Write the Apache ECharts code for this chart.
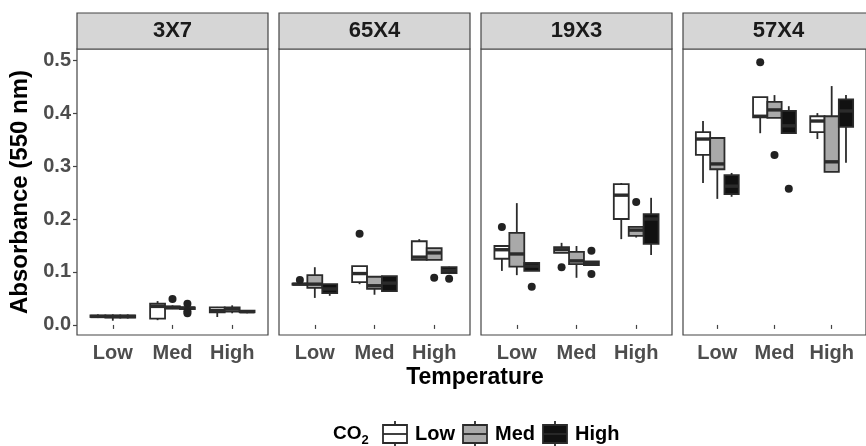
<!DOCTYPE html>
<html lang="en">
<head>
<meta charset="UTF-8">
<title>Absorbance by temperature and CO2</title>
<script src="https://cdn.jsdelivr.net/npm/echarts@6/dist/echarts.min.js"></script>
<style>
    body { margin: 0; background: #fff; }
    #chart { width: 866px; height: 446px; }
</style>
</head>
<body>
<div id="chart"></div>
<script>
// facets, x categories (temperature) and fill groups (CO2)
var panels = ['3X7', '65X4', '19X3', '57X4'];
var temps = ['Low', 'Med', 'High'];
var co2Levels = ['Low', 'Med', 'High'];
var yTicks = [0, 0.1, 0.2, 0.3, 0.4, 0.5];

// box stats per panel: [temp, co2, min, q1, median, q3, max]
var box3X7 = [
    [0, 0, 0.013, 0.015, 0.016, 0.018, 0.020],
    [0, 1, 0.008, 0.014, 0.016, 0.018, 0.020],
    [0, 2, 0.012, 0.014, 0.016, 0.018, 0.020],
    [1, 0, 0.009, 0.012, 0.035, 0.040, 0.045],
    [1, 1, 0.030, 0.031, 0.033, 0.035, 0.037],
    [1, 2, 0.028, 0.030, 0.032, 0.033, 0.035],
    [2, 0, 0.015, 0.024, 0.027, 0.033, 0.034],
    [2, 1, 0.022, 0.025, 0.030, 0.033, 0.037],
    [2, 2, 0.022, 0.024, 0.025, 0.027, 0.028]
];
var box65X4 = [
    [0, 0, 0.075, 0.076, 0.077, 0.078, 0.079],
    [0, 1, 0.051, 0.070, 0.077, 0.094, 0.109],
    [0, 2, 0.055, 0.060, 0.068, 0.077, 0.077],
    [1, 0, 0.077, 0.081, 0.097, 0.111, 0.111],
    [1, 1, 0.057, 0.068, 0.074, 0.091, 0.091],
    [1, 2, 0.064, 0.064, 0.079, 0.092, 0.092],
    [2, 0, 0.123, 0.123, 0.128, 0.158, 0.162],
    [2, 1, 0.123, 0.123, 0.136, 0.145, 0.145],
    [2, 2, 0.098, 0.098, 0.103, 0.109, 0.110]
];
var box19X3 = [
    [0, 0, 0.102, 0.125, 0.142, 0.149, 0.149],
    [0, 1, 0.094, 0.110, 0.134, 0.174, 0.230],
    [0, 2, 0.102, 0.102, 0.111, 0.117, 0.117],
    [1, 0, 0.136, 0.136, 0.142, 0.147, 0.155],
    [1, 1, 0.089, 0.115, 0.121, 0.138, 0.149],
    [1, 2, 0.113, 0.113, 0.116, 0.120, 0.120],
    [2, 0, 0.162, 0.200, 0.245, 0.266, 0.268],
    [2, 1, 0.165, 0.168, 0.179, 0.185, 0.185],
    [2, 2, 0.132, 0.153, 0.200, 0.209, 0.240]
];
var box57X4 = [
    [0, 0, 0.268, 0.321, 0.351, 0.364, 0.385],
    [0, 1, 0.238, 0.294, 0.304, 0.353, 0.353],
    [0, 2, 0.242, 0.247, 0.262, 0.283, 0.287],
    [1, 0, 0.362, 0.392, 0.394, 0.430, 0.430],
    [1, 1, 0.391, 0.391, 0.406, 0.421, 0.434],
    [1, 2, 0.362, 0.362, 0.376, 0.404, 0.413],
    [2, 0, 0.351, 0.364, 0.385, 0.394, 0.400],
    [2, 1, 0.289, 0.289, 0.308, 0.394, 0.451],
    [2, 2, 0.306, 0.374, 0.404, 0.426, 0.434]
];

// outliers per panel: [temp, co2, value]
var out3X7 = [[1, 1, 0.049], [1, 2, 0.040], [1, 2, 0.026], [1, 2, 0.022]];
var out65X4 = [[0, 0, 0.085], [1, 0, 0.172], [2, 1, 0.089], [2, 2, 0.087]];
var out19X3 = [[0, 0, 0.185], [0, 2, 0.072], [1, 0, 0.109], [1, 2, 0.140], [1, 2, 0.096], [2, 1, 0.232]];
var out57X4 = [[1, 0, 0.496], [1, 1, 0.321], [1, 2, 0.257]];

var boxes = [box3X7, box65X4, box19X3, box57X4];
var outliers = [out3X7, out65X4, out19X3, out57X4];

var fills = ['#ffffff', '#a9a9a9', '#111111'];
var edge = '#2b2b2b';
var font = 'Liberation Sans, Arial, sans-serif';
var panelLeft = [77, 279, 481, 683];
var panelW = 191;
var dodge = 0.25;

function xPos(t, c) {
    return t + 1 + (c - 1) * dodge;
}

function boxSeries(rows, i) {
    return {
        type: 'custom',
        xAxisIndex: i,
        yAxisIndex: i,
        data: rows.map(function (r) {
            return [xPos(r[0], r[1]), r[2], r[3], r[4], r[5], r[6], r[1]];
        }),
        renderItem: function (params, api) {
            var x = api.value(0);
            var half = api.size([dodge, 0])[0] / 2;
            var pMin = api.coord([x, api.value(1)]);
            var pQ1 = api.coord([x, api.value(2)]);
            var pMed = api.coord([x, api.value(3)]);
            var pQ3 = api.coord([x, api.value(4)]);
            var pMax = api.coord([x, api.value(5)]);
            var cx = pMed[0];
            return {
                type: 'group',
                children: [
                    { type: 'line', shape: { x1: cx, y1: pMin[1], x2: cx, y2: pMax[1] },
                      style: { stroke: edge, lineWidth: 1.8 } },
                    { type: 'rect', shape: { x: cx - half, y: pQ3[1], width: half * 2, height: Math.max(pQ1[1] - pQ3[1], 0.5) },
                      style: { fill: fills[api.value(6)], stroke: edge, lineWidth: 1.8 } },
                    { type: 'line', shape: { x1: cx - half, y1: pMed[1], x2: cx + half, y2: pMed[1] },
                      style: { stroke: edge, lineWidth: 3.4 } }
                ]
            };
        }
    };
}

function outlierSeries(rows, i) {
    return {
        type: 'scatter',
        xAxisIndex: i,
        yAxisIndex: i,
        symbolSize: 8,
        itemStyle: { color: '#222', opacity: 1 },
        data: rows.map(function (r) { return [xPos(r[0], r[1]), r[2]]; })
    };
}

var grids = [], xAxes = [], yAxes = [], series = [], graphics = [];
panels.forEach(function (name, i) {
    grids.push({
        left: panelLeft[i], top: 49, width: panelW, height: 286,
        show: true, backgroundColor: '#fff', borderColor: '#444', borderWidth: 1.2
    });
    xAxes.push({
        type: 'value', gridIndex: i, min: 0.4, max: 3.6,
        axisLine: { show: false },
        splitLine: { show: false },
        axisTick: { show: true, customValues: [1, 2, 3], length: 4, lineStyle: { color: '#444', width: 1.2 } },
        axisLabel: {
            customValues: [1, 2, 3], margin: 8,
            formatter: function (v) { return temps[Math.round(v) - 1]; },
            fontFamily: font, fontWeight: 'bold', fontSize: 20, color: '#4d4d4d'
        }
    });
    yAxes.push({
        type: 'value', gridIndex: i, min: -0.019, max: 0.521,
        axisLine: { show: false },
        splitLine: { show: false },
        axisTick: { show: i === 0, customValues: yTicks, length: 4, lineStyle: { color: '#444', width: 1.2 } },
        axisLabel: {
            show: i === 0, customValues: yTicks, margin: 6,
            formatter: function (v) { return v.toFixed(1); },
            fontFamily: font, fontWeight: 'bold', fontSize: 20, color: '#4d4d4d'
        },
        name: i === 0 ? 'Absorbance (550 nm)' : '',
        nameLocation: 'middle',
        nameGap: 45,
        nameTextStyle: { fontFamily: font, fontWeight: 'bold', fontSize: 24, color: '#000' }
    });
    series.push(boxSeries(boxes[i], i));
    series.push(outlierSeries(outliers[i], i));

    // facet strip
    graphics.push({
        type: 'rect', shape: { x: panelLeft[i], y: 13, width: panelW, height: 36 },
        style: { fill: '#d6d6d6', stroke: '#444', lineWidth: 1.2 }
    });
    graphics.push({
        type: 'text', x: panelLeft[i] + panelW / 2, y: 31,
        style: { text: name, font: 'bold 22px ' + font, fill: '#1a1a1a', align: 'center', verticalAlign: 'middle' }
    });
});

// x axis title
graphics.push({
    type: 'text', x: 475, y: 378,
    style: { text: 'Temperature', font: 'bold 23px ' + font, fill: '#000', align: 'center', verticalAlign: 'middle' }
});

// legend
graphics.push({
    type: 'text', x: 333, y: 434,
    style: {
        text: '{a|CO}{s|2}', align: 'left', verticalAlign: 'middle',
        rich: {
            a: { font: 'bold 19px ' + font, fill: '#000', lineHeight: 26 },
            s: { font: 'bold 13px ' + font, fill: '#000', verticalAlign: 'bottom' }
        }
    }
});
var keyX = [395, 475, 555];
co2Levels.forEach(function (lab, k) {
    var cx = keyX[k];
    graphics.push({ type: 'line', shape: { x1: cx, y1: 421, x2: cx, y2: 447 }, style: { stroke: edge, lineWidth: 1.8 } });
    graphics.push({ type: 'rect', shape: { x: cx - 12, y: 425, width: 24, height: 18 }, style: { fill: fills[k], stroke: edge, lineWidth: 1.8 } });
    graphics.push({ type: 'line', shape: { x1: cx - 12, y1: 434, x2: cx + 12, y2: 434 }, style: { stroke: edge, lineWidth: 1.8 } });
    graphics.push({
        type: 'text', x: cx + 20, y: 434,
        style: { text: lab, font: 'bold 20px ' + font, fill: '#000', align: 'left', verticalAlign: 'middle' }
    });
});

var chart = echarts.init(document.getElementById('chart'));
chart.setOption({
    animation: false,
    backgroundColor: '#fff',
    grid: grids,
    xAxis: xAxes,
    yAxis: yAxes,
    series: series,
    graphic: { elements: graphics }
});
</script>
</body>
</html>
